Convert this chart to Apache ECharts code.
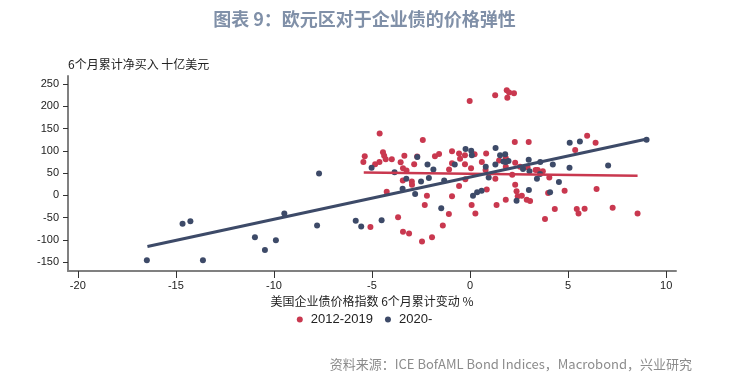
<!DOCTYPE html>
<html>
<head>
<meta charset="utf-8">
<script src="https://cdn.jsdelivr.net/npm/echarts@6/dist/echarts.min.js"></script>
<style>html,body{margin:0;padding:0;background:#fff;}#c{width:729px;height:383px;}</style>
</head>
<body>
<div id="c"></div>
<script>
var xTicks = [-20, -15, -10, -5, 0, 5, 10];
var yTicks = [-150, -100, -50, 0, 50, 100, 150, 200, 250];

var redPoints = [
[-4.61,139],[-5.44,75],[-5.37,88],[-4.84,70],[-4.62,75],[-4.44,97],[-4.38,89],[-4.30,81],[-3.99,81],[-3.54,74],
[-3.35,89],[-3.42,61],[-3.24,56],[-2.85,70],[-2.70,87],[-2.41,124],[-1.79,88],[-1.58,93],[-0.92,99],[-0.56,94],
[-0.51,82],[-0.92,72],[-1.07,58],[-0.26,90],[-0.26,70],[0.05,61],[0.23,92],[-0.02,212],[1.28,225],[-3.43,33],
[-2.97,31],[-2.96,24],[-4.25,8],[-3.67,-49],[-3.42,-82],[-3.11,-86],[-2.45,-104],[-1.94,-94],[-1.39,-68],[-1.08,-42],
[-2.20,-1],[-2.31,-22],[-0.92,-2],[-0.56,21],[-0.24,36],[0.08,-22],[0.27,-41],[-5.08,-71],[1.29,37],[1.35,-22],
[0.60,75],[0.82,94],[0.85,13],[0.79,57],[1.48,78],[1.87,236],[1.99,231],[1.90,219],[2.24,229],[2.28,120],
[2.99,120],[5.97,134],[6.40,118],[5.36,102],[1.82,84],[1.82,64],[2.30,73],[2.55,64],[2.93,63],[2.15,46],
[3.34,57],[3.45,57],[3.71,54],[4.04,40],[2.30,24],[2.37,9],[2.43,-2],[2.64,-1],[1.82,-10],[2.89,-10],
[3.06,-13],[3.98,5],[4.82,10],[6.45,14],[4.32,-31],[3.82,-53],[5.44,-31],[5.53,-41],[5.84,-30],[7.27,-28],
[8.54,-41]
];

var bluePoints = [
[-16.48,-146],[-14.66,-64],[-14.26,-58],[-13.62,-146],[-10.97,-94],[-10.46,-123],[-9.90,-101],[-9.47,-41],[-7.70,49],[-7.80,-68],
[-5.83,-57],[-5.55,-70],[-5.02,62],[-4.51,-56],[-3.85,52],[-3.44,15],[-3.25,37],[-2.80,3],[-2.69,86],[-2.50,31],
[-2.17,69],[-2.10,39],[-1.87,58],[-1.47,-29],[-1.32,33],[-0.78,69],[-0.23,104],[0.06,100],[0.09,90],[0.15,-1],
[0.36,7],[0.59,10],[0.80,64],[0.95,40],[1.30,106],[1.29,69],[1.53,90],[1.79,92],[1.70,76],[1.82,75],
[1.96,77],[2.37,-12],[2.70,59],[2.99,80],[3.03,54],[3.00,12],[3.58,75],[3.57,48],[3.41,37],[4.08,7],
[4.22,69],[4.53,30],[5.07,62],[5.08,118],[5.60,121],[7.04,67],[9.00,125]
];

var redTrend = [[-5.42,51],[8.54,44]];
var blueTrend = [[-16.45,-115],[8.96,126]];

var RED = '#c9384f';
var BLUE = '#3d4a68';
var CJK = '"Noto Sans CJK SC", "Noto Sans", sans-serif';
var LAT = '"Liberation Sans", Arial, sans-serif';

var chart = echarts.init(document.getElementById('c'));
chart.setOption({
  animation: false,
  backgroundColor: '#fff',
  title: {
    text: '图表 9：欧元区对于企业债的价格弹性',
    left: 'center',
    top: 5,
    textStyle: {color: '#8090a8', fontSize: 18, fontWeight: 'bold', fontFamily: CJK}
  },
  legend: {
    top: 308,
    left: 'center',
    itemWidth: 12,
    itemHeight: 6,
    itemGap: 12,
    data: [{name: '2012-2019', icon: 'circle'}, {name: '2020-', icon: 'circle'}],
    textStyle: {fontSize: 13, color: '#222', fontFamily: LAT}
  },
  grid: {left: 68, right: 53, top: 76, bottom: 112, containLabel: false},
  xAxis: {
    type: 'value',
    min: -20.5,
    max: 10.5,
    name: '美国企业债价格指数 6个月累计变动 %',
    nameLocation: 'middle',
    nameGap: 24,
    nameTextStyle: {fontSize: 12, color: '#222', fontFamily: CJK},
    splitLine: {show: false},
    axisLine: {show: true, onZero: false, lineStyle: {color: '#808080', width: 2}},
    axisTick: {show: true, length: 7, customValues: xTicks, lineStyle: {color: '#333', width: 1}},
    axisLabel: {customValues: xTicks, margin: 9, fontSize: 11, color: '#222', fontFamily: LAT}
  },
  yAxis: {
    type: 'value',
    min: -170,
    max: 268,
    name: '6个月累计净买入 十亿美元',
    nameLocation: 'end',
    nameGap: 6,
    nameTextStyle: {fontSize: 12, color: '#222', fontFamily: CJK, align: 'left'},
    splitLine: {show: false},
    axisLine: {show: true, onZero: false, lineStyle: {color: '#808080', width: 2}},
    axisTick: {show: true, length: 5, customValues: yTicks, lineStyle: {color: '#333', width: 1}},
    axisLabel: {customValues: yTicks, margin: 9, fontSize: 11, color: '#222', fontFamily: LAT}
  },
  series: [
    {name: '2012-2019', type: 'scatter', data: redPoints, symbolSize: 6, itemStyle: {color: RED, opacity: 1}, z: 2},
    {name: '2020-', type: 'scatter', data: bluePoints, symbolSize: 6, itemStyle: {color: BLUE, opacity: 1}, z: 3},
    {name: 'redTrend', type: 'line', data: redTrend, symbol: 'none', lineStyle: {color: RED, width: 2.5}, z: 4, silent: true},
    {name: 'blueTrend', type: 'line', data: blueTrend, symbol: 'none', lineStyle: {color: BLUE, width: 3}, z: 5, silent: true}
  ],
  graphic: [{
    type: 'text',
    right: 37,
    top: 358,
    style: {text: '资料来源：ICE BofAML Bond Indices，Macrobond，兴业研究', fill: '#8c8c8c', fontSize: 13, fontFamily: CJK}
  }]
});
</script>
</body>
</html>
